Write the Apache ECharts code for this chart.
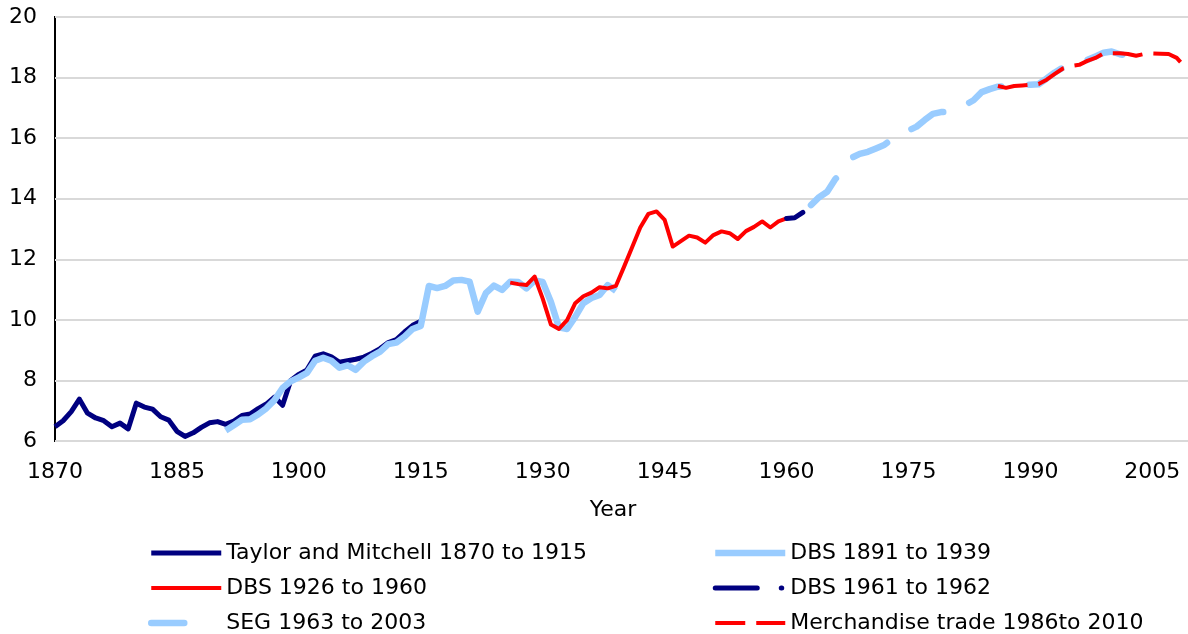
<!DOCTYPE html>
<html>
<head>
<meta charset="utf-8">
<script src="https://cdn.jsdelivr.net/npm/echarts@6/dist/echarts.min.js"></script>
<style>
  html, body { margin: 0; padding: 0; background: #fff; }
  #chart { width: 1188px; height: 634px; }
</style>
</head>
<body>
<div id="chart"></div>
<script>
// Year axis: one category per year
const firstYear = 1870;
const lastYear = 2010;
const years = [];
for (let y = firstYear; y <= lastYear; y++) years.push(String(y));

// Taylor and Mitchell, 1870 to 1915
const taylorStart = 1870;
const taylorValues = [
  6.47, 6.67, 6.97, 7.38, 6.92, 6.76, 6.67, 6.47, 6.59, 6.40,
  7.25, 7.12, 7.05, 6.80, 6.69, 6.32, 6.15, 6.27, 6.45, 6.60,
  6.64, 6.55, 6.66, 6.84, 6.89, 7.07, 7.22, 7.45, 7.18, 8.00,
  8.20, 8.35, 8.80, 8.88, 8.78, 8.60, 8.65, 8.70, 8.77, 8.90,
  9.05, 9.25, 9.35, 9.60, 9.82, 9.95
];

// DBS, 1891 to 1939
const dbsEarlyStart = 1891;
const dbsEarlyValues = [
  6.35, 6.52, 6.70, 6.72, 6.88, 7.08, 7.35, 7.75, 7.97,
  8.10, 8.25, 8.65, 8.75, 8.65, 8.42, 8.50, 8.35, 8.62, 8.80,
  8.95, 9.20, 9.25, 9.45, 9.70, 9.80, 11.12, 11.05, 11.12, 11.30,
  11.32, 11.26, 10.27, 10.88, 11.13, 10.99, 11.26, 11.25, 11.04, 11.30,
  11.25, 10.60, 9.75, 9.70, 10.10, 10.55, 10.72, 10.82, 11.15, 10.96
];

// DBS, 1926 to 1960
const dbsMidStart = 1926;
const dbsMidValues = [
  11.23, 11.18, 11.15, 11.43, 10.70, 9.85, 9.70, 9.99, 10.55, 10.78,
  10.90, 11.08, 11.04, 11.12, 11.75, 12.40, 13.05, 13.50, 13.58, 13.30,
  12.42, 12.60, 12.78, 12.72, 12.55, 12.80, 12.92, 12.86, 12.67, 12.93,
  13.07, 13.25, 13.05, 13.25, 13.35
];

// DBS, 1961 to 1962 (joined on from 1960)
const dbsLateStart = 1960;
const dbsLateValues = [13.35, 13.37, 13.55];

// SEG, 1963 to 2003
const segStart = 1963;
const segValues = [
  13.79, 14.05, 14.23, 14.65, 14.90, 15.35, 15.48, 15.55, 15.66, 15.77,
  15.99, 16.12, 16.25, 16.38, 16.60, 16.80, 16.86, 16.87, 16.95, 17.10,
  17.25, 17.52, 17.62, 17.70, 17.72, 17.74, 17.77, 17.76, 17.78, 17.97,
  18.17, 18.33, 18.42, 18.48, 18.58, 18.70, 18.82, 18.86, 18.77, 18.72,
  18.70
];

// Merchandise trade, 1986 to 2010
const tradeStart = 1986;
const tradeValues = [
  17.72, 17.66, 17.72, 17.74, 17.76, 17.79, 17.93, 18.12, 18.30, 18.38,
  18.42, 18.55, 18.65, 18.80, 18.80, 18.80, 18.78, 18.72, 18.78, 18.80,
  18.79, 18.78, 18.65, 18.35, 18.30
];

// Value axis ticks
const yMin = 6, yMax = 20, yStep = 2;

const names = [
  'Taylor and Mitchell 1870 to 1915',
  'DBS 1891 to 1939',
  'DBS 1926 to 1960',
  'DBS 1961 to 1962',
  'SEG 1963 to 2003',
  'Merchandise trade 1986to 2010'
];

function toPoints(start, values) {
  return values.map((v, i) => [start - firstYear + i, v]);
}

const FONT = 'DejaVu Sans';
const FS = 22;
const NAVY = '#000080', SKY = '#99CCFF', RED = '#FF0000';

function lineSeries(name, start, values, style) {
  return {
    name: name,
    type: 'line',
    symbol: 'none',
    showSymbol: false,
    smooth: false,
    animation: false,
    color: style.color,
    itemStyle: { color: style.color },
    data: toPoints(start, values),
    lineStyle: Object.assign({ join: 'round' }, style)
  };
}

function legendColumn(left, items) {
  return {
    orient: 'vertical', left: left, top: 542, height: 120, padding: 0,
    itemWidth: 70, itemHeight: 14, itemGap: 13,
    data: items,
    textStyle: { fontSize: FS, lineHeight: 22, color: '#000', fontFamily: FONT },
    itemStyle: { opacity: 0, borderWidth: 0 },
    lineStyle: { width: 'inherit' }
  };
}

const chart = echarts.init(document.getElementById('chart'), null, { renderer: 'canvas' });

chart.setOption({
  animation: false,
  backgroundColor: '#fff',
  textStyle: { fontFamily: FONT },
  grid: {
    left: 55, right: -5, top: 17, bottom: 193,
    show: true, borderColor: '#000', borderWidth: 2,
    outerBoundsMode: 'none', containLabel: false
  },
  xAxis: {
    type: 'category',
    data: years,
    boundaryGap: false,
    axisLine: { show: false },
    axisTick: { show: false },
    splitLine: { show: false },
    axisLabel: {
      interval: (idx) => idx % 15 === 0,
      margin: 20,
      color: '#000',
      fontSize: FS,
      fontFamily: FONT
    }
  },
  yAxis: {
    type: 'value',
    min: yMin, max: yMax, interval: yStep,
    axisLine: { show: false },
    axisTick: { show: false },
    splitLine: { show: true, lineStyle: { color: '#D9D9D9', width: 2 } },
    axisLabel: { margin: 18, color: '#000', fontSize: FS, fontFamily: FONT }
  },
  legend: [
    legendColumn(148, [
      names[0],
      names[2],
      { name: names[4], lineStyle: { width: 6.5, type: [33, 60], cap: 'round' } }
    ]),
    legendColumn(712, [names[1], names[3], names[5]])
  ],
  graphic: [{
    type: 'text', x: 613, y: 510,
    style: { text: 'Year', align: 'center', verticalAlign: 'middle', font: FS + 'px "DejaVu Sans"', fill: '#000' }
  }],
  series: [
    lineSeries(names[0], taylorStart, taylorValues, { color: NAVY, width: 5 }),
    lineSeries(names[1], dbsEarlyStart, dbsEarlyValues, { color: SKY, width: 6.5 }),
    lineSeries(names[2], dbsMidStart, dbsMidValues, { color: RED, width: 4 }),
    lineSeries(names[3], dbsLateStart, dbsLateValues, { color: NAVY, width: 5, type: [42, 24, 0.5, 30], cap: 'round' }),
    lineSeries(names[4], segStart, segValues, { color: SKY, width: 6.5, type: [37, 28], cap: 'round' }),
    lineSeries(names[5], tradeStart, tradeValues, { color: RED, width: 4, type: [30, 11] })
  ]
});
</script>
</body>
</html>
